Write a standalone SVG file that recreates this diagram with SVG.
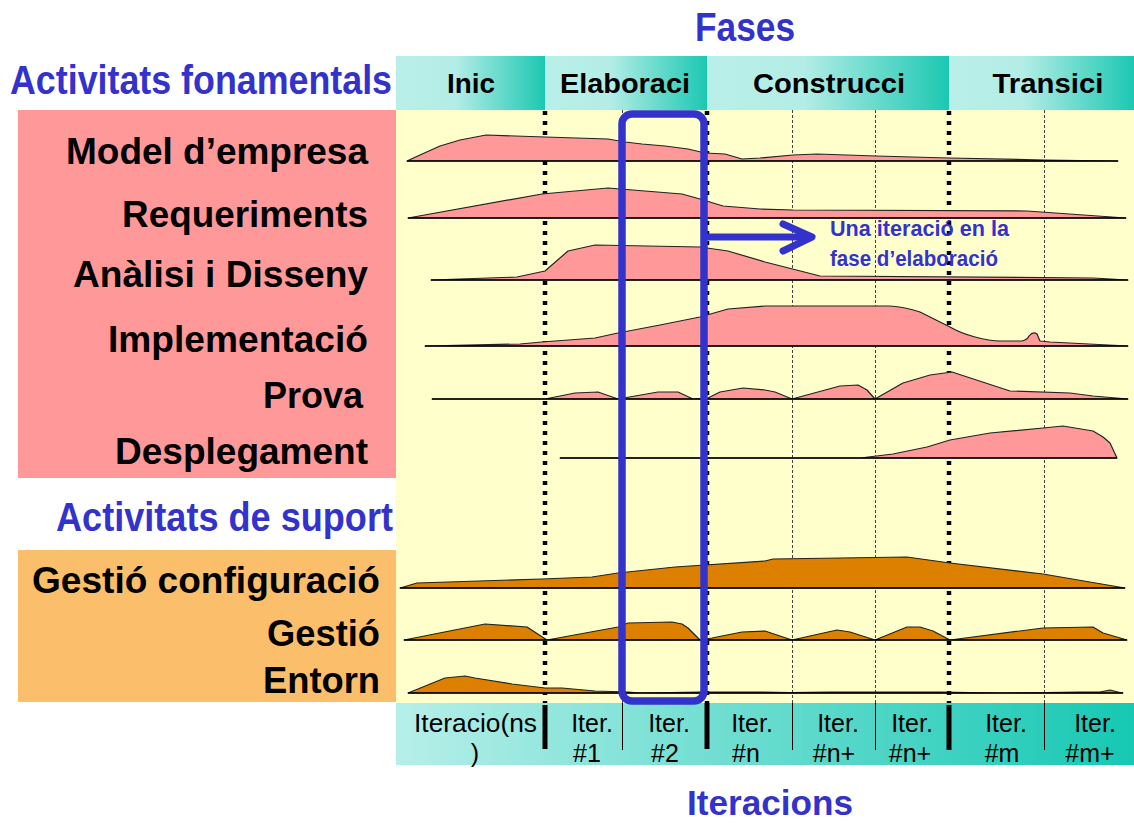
<svg xmlns="http://www.w3.org/2000/svg" width="1134" height="823" viewBox="0 0 1134 823">
<style>
.lbl{font-family:"Liberation Sans",Arial,sans-serif;font-weight:bold;font-size:36px;fill:#000}
.ttl{font-family:"Liberation Sans Narrow","Liberation Sans",Arial,sans-serif;font-weight:bold;font-size:40px;fill:#3333cc}
.hdr{font-family:"Liberation Sans",Arial,sans-serif;font-weight:bold;font-size:27px;fill:#000;text-anchor:middle}
.it{font-family:"Liberation Sans",Arial,sans-serif;font-size:25px;fill:#000;text-anchor:middle}
.note{font-family:"Liberation Sans",Arial,sans-serif;font-weight:bold;font-size:22px;fill:#3333cc}
.pink{fill:#ff9999;stroke:#222;stroke-width:1.2;stroke-linejoin:round}
.orng{fill:#dd8000;stroke:#222;stroke-width:1.2;stroke-linejoin:round}
.base{stroke:#000;stroke-width:1.6;fill:none}
.thick{stroke:#000;stroke-width:4.5;stroke-dasharray:4 6;fill:none}
.thin{stroke:#444;stroke-width:1;stroke-dasharray:3 2;fill:none}
.bar{stroke:#000;stroke-width:5}
.sep{stroke:#000;stroke-width:1}
</style>
<defs>
<linearGradient id="hg" x1="0" y1="0" x2="1" y2="0">
<stop offset="0" stop-color="#b9efe9"/>
<stop offset="0.4" stop-color="#b3ede6"/>
<stop offset="1" stop-color="#1cc8b2"/>
</linearGradient>
<linearGradient id="bg" x1="0" y1="0" x2="1" y2="0">
<stop offset="0" stop-color="#b6efe9"/>
<stop offset="1" stop-color="#16c8b3"/>
</linearGradient>
</defs>
<rect width="1134" height="823" fill="#fff"/>

<!-- backgrounds -->
<rect x="18" y="110" width="378" height="368" fill="#ff9999"/>
<rect x="18" y="550" width="378" height="152" fill="#fbbe6a"/>
<rect x="396" y="110" width="738" height="593" fill="#ffffcc"/>

<!-- titles -->
<text class="ttl" x="695" y="41" textLength="100" lengthAdjust="spacingAndGlyphs">Fases</text>
<text class="ttl" x="10" y="94" textLength="382" lengthAdjust="spacingAndGlyphs">Activitats fonamentals</text>
<text class="ttl" x="56" y="531" textLength="337" lengthAdjust="spacingAndGlyphs">Activitats de suport</text>
<text class="ttl" x="687" y="815" style="font-size:35px" textLength="166" lengthAdjust="spacingAndGlyphs">Iteracions</text>

<!-- phase header -->
<g id="phase-inic"><rect x="396" y="56" width="149" height="54" fill="url(#hg)"/><text class="hdr" x="471" y="93" textLength="48" lengthAdjust="spacingAndGlyphs">Inic</text></g>
<g id="phase-elaboraci"><rect x="545" y="56" width="162" height="54" fill="url(#hg)"/><text class="hdr" x="625" y="93" textLength="130" lengthAdjust="spacingAndGlyphs">Elaboraci</text></g>
<g id="phase-construcci"><rect x="707" y="56" width="242" height="54" fill="url(#hg)"/><text class="hdr" x="829" y="93" textLength="152" lengthAdjust="spacingAndGlyphs">Construcci</text></g>
<g id="phase-transici"><rect x="949" y="56" width="185" height="54" fill="url(#hg)"/><text class="hdr" x="1048" y="93" textLength="111" lengthAdjust="spacingAndGlyphs">Transici</text></g>

<!-- iteration row -->
<g id="iterations">
<rect x="396" y="703" width="738" height="62" fill="url(#bg)"/>
<line class="sep" x1="622.5" y1="703" x2="622.5" y2="750"/>
<line class="sep" x1="792.5" y1="703" x2="792.5" y2="750"/>
<line class="sep" x1="875.5" y1="703" x2="875.5" y2="750"/>
<line class="sep" x1="1044.5" y1="703" x2="1044.5" y2="750"/>
<line class="bar" x1="545" y1="705" x2="545" y2="749"/>
<line class="bar" x1="707" y1="703" x2="707" y2="749"/>
<line class="bar" x1="949" y1="705" x2="949" y2="750"/>
<text class="it" x="414" y="732" style="text-anchor:start" textLength="123" lengthAdjust="spacingAndGlyphs">Iteracio(ns</text>
<text class="it" x="475" y="762">)</text>
<text class="it" x="592" y="732">Iter.</text><text class="it" x="587" y="762">#1</text>
<text class="it" x="669" y="732">Iter.</text><text class="it" x="665" y="762">#2</text>
<text class="it" x="752" y="732">Iter.</text><text class="it" x="746" y="762">#n</text>
<text class="it" x="838" y="732">Iter.</text><text class="it" x="834" y="762">#n+</text>
<text class="it" x="912" y="732">Iter.</text><text class="it" x="910" y="762">#n+</text>
<text class="it" x="1006" y="732">Iter.</text><text class="it" x="1002" y="762">#m</text>
<text class="it" x="1095" y="732">Iter.</text><text class="it" x="1090" y="762">#m+</text>
</g>

<!-- grid lines -->
<g id="grid">
<line class="thin" x1="622.5" y1="110" x2="622.5" y2="703"/>
<line class="thin" x1="792.5" y1="110" x2="792.5" y2="703"/>
<line class="thin" x1="875.5" y1="110" x2="875.5" y2="703"/>
<line class="thin" x1="1044.5" y1="110" x2="1044.5" y2="703"/>
<line class="thick" x1="545" y1="111" x2="545" y2="703"/>
<line class="thick" x1="707" y1="111" x2="707" y2="703"/>
<line class="thick" x1="949" y1="111" x2="949" y2="703"/>
</g>

<!-- activity rows -->
<g id="model-empresa">
<text class="lbl" x="66" y="164" textLength="302" lengthAdjust="spacingAndGlyphs">Model d’empresa</text>
<path class="pink" d="M407,161 L420,155 L440,146 L460,140 L486,135 L545,137 L608,139 L625,142 L642,144 L665,146 L688,149 L705,153 L725,154 L742,159 L760,158 L793,155 L817,154 L876,156 L949,158 L1044,160 L1118,161 Z"/>
<line class="base" x1="407" y1="161" x2="1118" y2="161"/>
</g>
<g id="requeriments">
<text class="lbl" x="122" y="227" textLength="246" lengthAdjust="spacingAndGlyphs">Requeriments</text>
<path class="pink" d="M408,218 L542,194 L608,188 L682,194 L700,199 L723,206 L760,209 L793,210 L1027,211 L1126,218 Z"/>
<line class="base" x1="408" y1="218" x2="1126" y2="218"/>
</g>
<g id="analisi-disseny">
<text class="lbl" x="73" y="287" textLength="295" lengthAdjust="spacingAndGlyphs">Anàlisi i Disseny</text>
<path class="pink" d="M431,280 L517,277 L545,271 L568,251 L595,245 L700,247 L728,251 L765,262 L820,276 L1093,278 L1128,280 Z"/>
<line class="base" x1="431" y1="280" x2="1128" y2="280"/>
</g>
<g id="implementacio">
<text class="lbl" x="108" y="352" textLength="260" lengthAdjust="spacingAndGlyphs">Implementació</text>
<path class="pink" d="M425,346 L520,344 L542,342 L595,338 L618,333 L660,325 L700,317 L728,309 L765,306 L890,306 Q905,307 920,312 L950,327 Q960,333 975,337 Q990,341 1000,341 L1022,341 Q1027,340 1029,336 Q1033,331 1037,334 L1040,341 L1050,342 L1128,346 Z"/>
<line class="base" x1="425" y1="346" x2="1128" y2="346"/>
</g>
<g id="prova">
<text class="lbl" x="263" y="408" textLength="100" lengthAdjust="spacingAndGlyphs">Prova</text>
<path class="pink" d="M432,399 L545,399 L575,393 L598,392 L618,399 L658,392 L678,392 L693,399 L708,398 L720,392 L743,388 L765,390 L775,392 L792,399 L840,386 L858,385 L867,390 L875,399 L903,383 L930,375 L952,372 L1010,391 L1070,393 L1093,396 L1128,399 Z"/>
<line class="base" x1="432" y1="399" x2="1128" y2="399"/>
</g>
<g id="desplegament">
<text class="lbl" x="115" y="464" textLength="253" lengthAdjust="spacingAndGlyphs">Desplegament</text>
<path class="pink" d="M560,458 L860,458 L893,454 L927,447 L950,440 L990,433 L1043,428 L1063,426 L1093,431 L1103,437 L1110,443 L1117,458 Z"/>
<line class="base" x1="560" y1="458" x2="1117" y2="458"/>
</g>
<g id="gestio-configuracio">
<text class="lbl" x="32" y="593" textLength="348" lengthAdjust="spacingAndGlyphs">Gestió configuració</text>
<path class="orng" d="M400,588 L417,583 L542,579 L592,577 L618,573 L675,567 L765,561 L773,559 L907,557 L950,563 L1043,574 L1125,588 Z"/>
<line class="base" x1="400" y1="588" x2="1125" y2="588"/>
</g>
<g id="gestio">
<text class="lbl" x="267" y="646" textLength="113" lengthAdjust="spacingAndGlyphs">Gestió</text>
<path class="orng" d="M404,640 L485,624 L527,627 L547,640 L618,627 L628,623 L672,622 L682,624 L688,628 L700,640 L712,638 L742,632 L765,631 L792,640 L837,630 L850,632 L875,640 L907,627 L920,627 L933,631 L950,640 L1043,628 L1093,627 L1103,633 L1127,640 Z"/>
<line class="base" x1="404" y1="640" x2="1127" y2="640"/>
</g>
<g id="entorn">
<text class="lbl" x="263" y="693" textLength="117" lengthAdjust="spacingAndGlyphs">Entorn</text>
<path class="orng" d="M408,693 L445,678 L465,676 L475,678 L512,684 L545,688 L562,688 L595,691 L628,692 L640,693 L700,692 L760,692 L790,692.5 L830,692 L880,692 L940,692 L1000,693 L1045,692.5 L1080,692 L1100,692 L1110,690 L1118,692 L1123,693 Z"/>
<line class="base" x1="408" y1="693" x2="1123" y2="693"/>
</g>

<!-- highlighted iteration -->
<g id="iteration-highlight">
<rect x="622" y="114" width="82" height="587" rx="10" ry="10" fill="none" stroke="#3333cc" stroke-width="7.5"/>
</g>

<!-- connectors -->
<g id="connectors" fill="none" stroke="#3333cc" stroke-width="7" stroke-linecap="round" stroke-linejoin="round">
<line x1="708" y1="237" x2="810" y2="237"/>
<polyline points="783,224 812,237 783,251"/>
</g>

<g id="note">
<text class="note" x="830" y="236" textLength="179" lengthAdjust="spacingAndGlyphs">Una iteració en la</text>
<text class="note" x="830" y="266" textLength="168" lengthAdjust="spacingAndGlyphs">fase d’elaboració</text>
</g>
</svg>
